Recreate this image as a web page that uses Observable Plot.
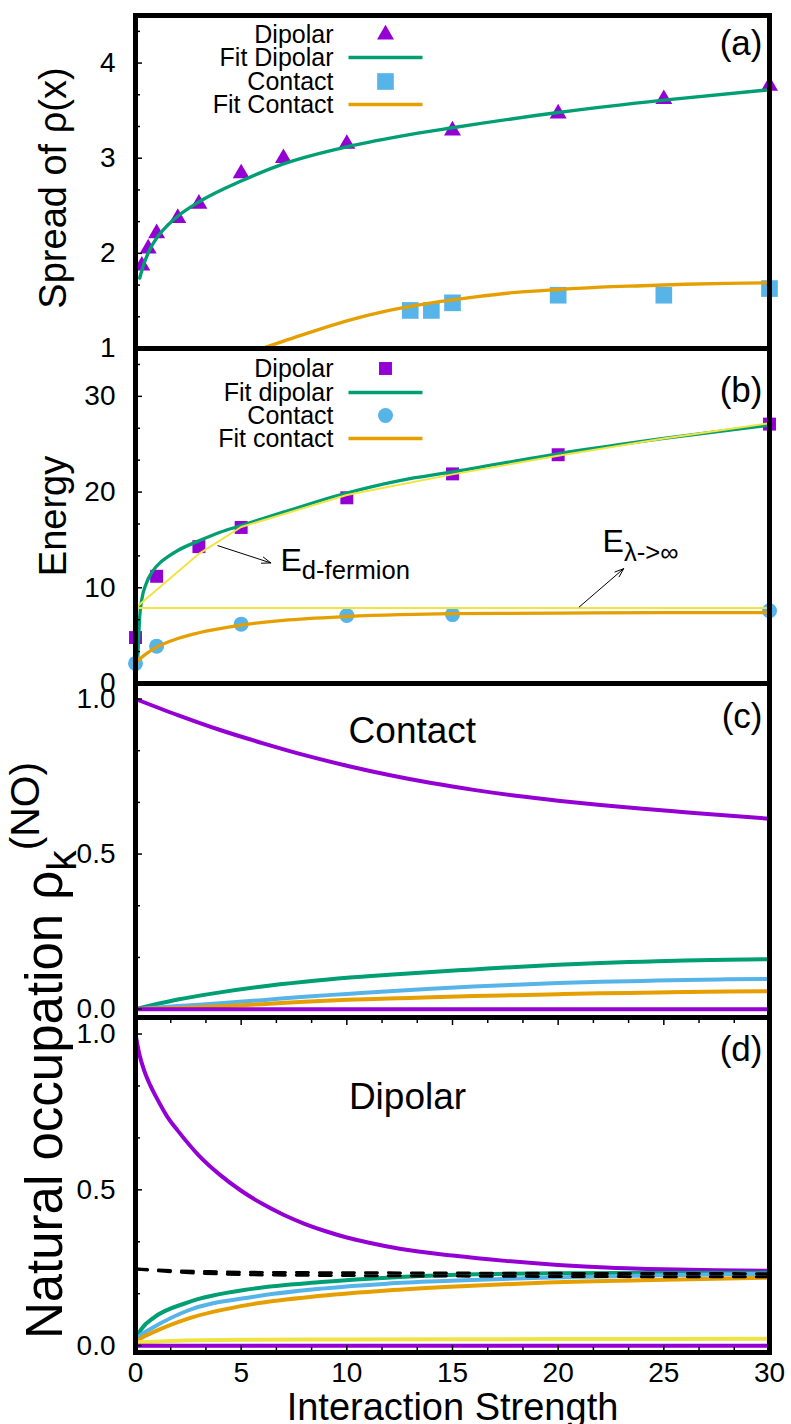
<!DOCTYPE html>
<html><head><meta charset="utf-8">
<script src="https://cdn.jsdelivr.net/npm/d3@7"></script>
<script src="https://cdn.jsdelivr.net/npm/@observablehq/plot@0.6"></script>
<style>
html,body{margin:0;padding:0;background:#fff;}
#fig{position:relative;width:791px;height:1424px;overflow:hidden;background:#fff;}
#fig svg{position:absolute;left:0;overflow:visible;}
</style></head><body><div id="fig"></div>
<script>
// ---------------- data ----------------
const X_DOMAIN = [0, 30];
const X_MAJOR = [0, 5, 10, 15, 20, 25, 30];

// panel (a) Spread of rho(x)
const aDipX = [0.3, 0.6, 1, 2, 3, 5, 7, 10, 15, 20, 25, 30];
const aDipY = [1.87, 2.05, 2.21, 2.37, 2.52, 2.84, 3.00, 3.15, 3.29, 3.47, 3.62, 3.76];
const aFitDipX = [0.2, 0.4, 0.7, 1, 1.5, 2, 3, 5, 7, 10, 12.5, 15, 20, 25, 30];
const aFitDipY = [1.74, 1.89, 2.05, 2.16, 2.29, 2.39, 2.54, 2.76, 2.94, 3.12, 3.23, 3.32, 3.48, 3.61, 3.72];
const aConX = [13, 14, 15, 20, 25, 30];
const aConY = [1.40, 1.40, 1.48, 1.56, 1.56, 1.63];
const aFitConX = [6, 8, 10, 12, 14, 16, 18, 20, 22, 24, 26, 28, 30];
const aFitConY = [1.00, 1.15, 1.29, 1.40, 1.48, 1.54, 1.59, 1.62, 1.645, 1.66, 1.675, 1.685, 1.69];
const aYMajor = [1, 2, 3, 4];
const aLegend = ["Dipolar", "Fit Dipolar", "Contact", "Fit Contact"];

// panel (b) Energy
const bDipX = [0, 1, 3, 5, 10, 15, 20, 30];
const bDipY = [4.8, 11.2, 14.3, 16.3, 19.4, 21.9, 23.9, 27.1];
const bFitDipX = [0.1, 0.15, 0.2, 0.3, 0.5, 0.8, 1.2, 1.5, 2, 3, 4, 5, 7, 10, 12.5, 15, 20, 25, 30];
const bFitDipY = [2.4, 4.8, 7.0, 8.8, 10.4, 11.7, 12.7, 13.2, 13.9, 14.9, 15.8, 16.5, 17.9, 19.9, 21.2, 22.1, 24.0, 25.6, 27.0];
const bConX = [0, 1, 5, 10, 15, 30];
const bConY = [2.1, 3.9, 6.2, 7.1, 7.2, 7.6];
const bFitConX = [0, 0.5, 1, 2, 3, 5, 7, 10, 12.5, 15, 20, 25, 30];
const bFitConY = [2.2, 3.1, 3.8, 4.7, 5.3, 6.1, 6.6, 7.0, 7.2, 7.3, 7.35, 7.4, 7.4];
const bEdfX = [0, 3, 5, 10, 15, 20, 25, 30];
const bEdfY = [7.9, 13.55, 16.35, 19.7, 21.85, 23.8, 25.6, 27.2];
const bElimX = [0, 30];
const bElimY = [7.9, 7.9];
const bYMajor = [0, 10, 20, 30];
const bLegend = ["Dipolar", "Fit dipolar", "Contact", "Fit contact"];
const bNotes = [{x: 6.86, y: 11.8, label: "E_{d-fermion}"}, {x: 22.1, y: 13.7, label: "E_{λ->∞}"}];
const bArrows = [{x1: 3.9, y1: 14.4, x2: 6.4, y2: 12.6}, {x1: 21.0, y1: 8.0, x2: 23.1, y2: 12.0}];

// panel (c) Contact natural occupations
const cX = [0, 2, 4, 6, 8, 10, 12, 14, 16, 18, 20, 22, 24, 26, 28, 30];
const cPurple = [1.0, 0.948, 0.900, 0.858, 0.819, 0.785, 0.755, 0.729, 0.707, 0.688, 0.672, 0.658, 0.646, 0.635, 0.624, 0.614];
const cGreen = [0, 0.031, 0.054, 0.073, 0.088, 0.101, 0.111, 0.120, 0.128, 0.136, 0.143, 0.149, 0.153, 0.157, 0.159, 0.161];
const cBlue = [0, 0.010, 0.019, 0.029, 0.040, 0.049, 0.058, 0.066, 0.073, 0.079, 0.084, 0.088, 0.091, 0.094, 0.096, 0.097];
const cOrange = [0, 0.004, 0.009, 0.016, 0.024, 0.030, 0.034, 0.038, 0.042, 0.045, 0.048, 0.051, 0.053, 0.055, 0.057, 0.058];
const cLowX = [0, 30];
const cLowY = [0, 0];
const cNotes = [{x: 13.1, y: 0.896, label: "Contact"}];

// panel (d) Dipolar natural occupations
const dPurpleX = [0, 0.2, 0.4, 0.7, 1, 1.5, 2, 3, 4, 5, 6, 7, 8, 9, 10, 11, 12.5, 15, 17.5, 20, 22.5, 25, 27.5, 30];
const dPurpleY = [1.0, 0.93, 0.885, 0.835, 0.795, 0.735, 0.69, 0.61, 0.548, 0.497, 0.455, 0.42, 0.391, 0.367, 0.347, 0.331, 0.311, 0.289, 0.272, 0.259, 0.25, 0.245, 0.242, 0.24];
const dGreenX = [0, 0.3, 0.87, 2.45, 5.6, 8.8, 11.9, 14.9, 20, 25, 30];
const dGreenY = [0.02, 0.055, 0.09, 0.138, 0.183, 0.204, 0.218, 0.227, 0.232, 0.233, 0.234];
const dBlueX = [0, 0.3, 0.87, 2.45, 5.6, 8.8, 11.9, 14.9, 19.2, 25, 30];
const dBlueY = [0.02, 0.037, 0.060, 0.112, 0.157, 0.183, 0.199, 0.208, 0.218, 0.226, 0.231];
const dOrangeX = [0, 0.3, 0.87, 2.45, 5.6, 8.8, 11.9, 14.9, 19.2, 23.9, 30];
const dOrangeY = [0.01, 0.025, 0.044, 0.086, 0.134, 0.16, 0.177, 0.189, 0.202, 0.21, 0.218];
const dYellowX = [0, 2, 5, 10, 20, 30];
const dYellowY = [0.01, 0.016, 0.019, 0.020, 0.021, 0.022];
const dLowX = [0, 30];
const dLowY = [0, 0];
const dDashX = [0, 2, 4, 6, 10, 20, 30];
const dDash1Y = [0.246, 0.240, 0.237, 0.235, 0.234, 0.232, 0.231];
const dDash2Y = [0.246, 0.236, 0.230, 0.227, 0.225, 0.222, 0.221];
const dNotes = [{x: 12.87, y: 0.797, label: "Dipolar"}];
const occMajor = [0, 0.5, 1.0];

// ---------------- helpers ----------------
const FONT = '"Liberation Sans", Arial, Helvetica, sans-serif';
const C = {purple: "#9400D3", green: "#009E73", blue: "#56B4E9", orange: "#E69F00", yellow: "#F0E442"};
const pts = (xs, ys) => xs.map((x, i) => ({x, y: ys[i]}));
const thirds = (lo, hi, step) => d3.range(lo, hi + 1e-9, step / 3)
  .filter(v => Math.abs(v / step - Math.round(v / step)) > 1e-6);
const lineSym = {draw(ctx) { ctx.moveTo(-37, 0); ctx.lineTo(37, 0); }};
const fig = document.getElementById("fig");

function yAxis(major, minor, fmt) {
  return [
    Plot.axisY(minor, {tickSize: -5, tickFormat: () => "", strokeWidth: 1.5, label: null}),
    Plot.axisY(major, {tickSize: -7, tickPadding: 27, tickFormat: fmt, strokeWidth: 1.5, label: null, fontSize: 28})
  ];
}
function curve(xs, ys, stroke, w, extra = {}) {
  return Plot.line(pts(xs, ys), {x: "x", y: "y", stroke, strokeWidth: w, curve: "monotone-x", ...extra});
}
function legend(labels, rowsDy, items) {
  const marks = [];
  labels.forEach((lab, i) => {
    marks.push(Plot.text([lab], {frameAnchor: "top-left", dx: 198, dy: rowsDy[i], textAnchor: "end", lineAnchor: "middle", fontSize: 25}));
    marks.push(Plot.dot([0], {frameAnchor: "top-left", dx: 250, dy: rowsDy[i], ...items[i]}));
  });
  return marks;
}
function panelLabel(t, dy) {
  return Plot.text([t], {frameAnchor: "top-right", dx: -7, dy, textAnchor: "end", lineAnchor: "middle", fontSize: 35});
}
function yLabel(t, opts) {
  return Plot.text([t], {rotate: -90, textAnchor: "middle", lineAnchor: "middle", fontSize: 38, ...opts});
}
function richify(svg) {
  d3.select(svg).selectAll("text").each(function () {
    const s = this.textContent;
    if (!/[_^]\{/.test(s)) return;
    const fs = parseFloat(getComputedStyle(this).fontSize);
    const parts = [];
    const re = /([_^])\{([^}]*)\}|([^_^]+)/g;
    let m;
    while ((m = re.exec(s))) parts.push(m[3] !== undefined ? {t: m[3], k: 0} : {t: m[2], k: m[1] === "_" ? -1 : 1});
    const el = d3.select(this);
    el.text(null);
    let cur = 0;
    for (const p of parts) {
      const off = p.k === 0 ? 0 : p.k === -1 ? 0.27 * fs : -0.45 * fs;
      const ts = el.append("tspan").text(p.t).attr("dy", off - cur);
      if (p.k !== 0) ts.attr("font-size", 0.8 * fs);
      cur = off;
    }
  });
}
function panel({top, height, mt, mb, yDomain, marks}) {
  const svg = Plot.plot({
    width: 791, height, marginLeft: 135, marginRight: 22, marginTop: mt, marginBottom: mb,
    x: {domain: X_DOMAIN, axis: null},
    y: {domain: yDomain, axis: null},
    style: {background: "transparent", fontFamily: FONT, fontSize: "28px", overflow: "visible", color: "black"},
    marks
  });
  svg.style.top = top + "px";
  fig.appendChild(svg);
  richify(svg);
}
const frame = Plot.frame({stroke: "black", strokeWidth: 5});

// ---------------- panel (a) ----------------
panel({
  top: 0, height: 353, mt: 15, mb: 5, yDomain: [1, 4.5],
  marks: [
    Plot.dot(pts(aDipX, aDipY), {x: "x", y: "y", symbol: "triangle", r: 6.3, fill: C.purple}),
    curve(aFitDipX, aFitDipY, C.green, 3.4),
    Plot.dot(pts(aConX, aConY), {x: "x", y: "y", symbol: "square", r: 9.4, fill: C.blue}),
    curve(aFitConX, aFitConY, C.orange, 3.4),
    ...legend(aLegend, [19, 42, 66, 89], [
      {symbol: "triangle", r: 6.3, fill: C.purple},
      {symbol: lineSym, r: 4, fill: "none", stroke: C.green, strokeWidth: 3.4},
      {symbol: "square", r: 9.4, fill: C.blue},
      {symbol: lineSym, r: 4, fill: "none", stroke: C.orange, strokeWidth: 3.4}
    ]),
    yLabel("Spread of ρ(x)", {frameAnchor: "left", dx: -82, dy: 6}),
    panelLabel("(a)", 28.5),
    ...yAxis(aYMajor, thirds(1, 4.5, 1), d3.format("d")),
    frame
  ]
});

// ---------------- panel (b) ----------------
panel({
  top: 343, height: 345, mt: 5, mb: 5, yDomain: [0, 35],
  marks: [
    Plot.dot(pts(bDipX, bDipY), {x: "x", y: "y", symbol: "square", r: 7.3, fill: C.purple}),
    curve(bFitDipX, bFitDipY, C.green, 3.3),
    Plot.dot(pts(bConX, bConY), {x: "x", y: "y", r: 7.5, fill: C.blue}),
    curve(bFitConX, bFitConY, C.orange, 3.3),
    Plot.line(pts(bEdfX, bEdfY), {x: "x", y: "y", stroke: C.yellow, strokeWidth: 2}),
    Plot.line(pts(bElimX, bElimY), {x: "x", y: "y", stroke: C.yellow, strokeWidth: 2}),
    Plot.arrow(bArrows, {x1: "x1", y1: "y1", x2: "x2", y2: "y2", stroke: "black", strokeWidth: 1, headLength: 14, headAngle: 40}),
    Plot.text(bNotes, {x: "x", y: "y", text: "label", textAnchor: "start", lineAnchor: "bottom", fontSize: 32}),
    ...legend(bLegend, [20, 44, 67, 90], [
      {symbol: "square", r: 7.3, fill: C.purple},
      {symbol: lineSym, r: 4, fill: "none", stroke: C.green, strokeWidth: 3.3},
      {symbol: "circle", r: 7.5, fill: C.blue},
      {symbol: lineSym, r: 4, fill: "none", stroke: C.orange, strokeWidth: 3.3}
    ]),
    yLabel("Energy", {frameAnchor: "left", dx: -82}),
    panelLabel("(b)", 42.5),
    ...yAxis(bYMajor, thirds(0, 35, 10), d3.format("d")),
    frame
  ]
});

// ---------------- panel (c) ----------------
panel({
  top: 678, height: 344, mt: 5, mb: 5, yDomain: [-0.027, 1.05],
  marks: [
    curve(cX, cPurple, C.purple, 4),
    curve(cX, cGreen, C.green, 4),
    curve(cX, cBlue, C.blue, 4),
    curve(cX, cOrange, C.orange, 4),
    curve(cLowX, cLowY, C.purple, 4),
    Plot.text(cNotes, {x: "x", y: "y", text: "label", fontSize: 37, lineAnchor: "middle"}),
    panelLabel("(c)", 33),
    ...yAxis(occMajor, thirds(0, 1.0, 0.5), d3.format(".1f")),
    frame
  ]
});

// ---------------- panel (d) ----------------
panel({
  top: 1012, height: 412, mt: 5, mb: 72, yDomain: [-0.022, 1.053],
  marks: [
    curve(dPurpleX, dPurpleY, C.purple, 4),
    curve(dGreenX, dGreenY, C.green, 4),
    curve(dBlueX, dBlueY, C.blue, 4),
    curve(dOrangeX, dOrangeY, C.orange, 4),
    curve(dYellowX, dYellowY, C.yellow, 4),
    curve(dLowX, dLowY, C.purple, 4),
    curve(dDashX, dDash1Y, "black", 3, {strokeDasharray: "12,11"}),
    curve(dDashX, dDash2Y, "black", 3, {strokeDasharray: "12,11"}),
    Plot.text(dNotes, {x: "x", y: "y", text: "label", fontSize: 37, lineAnchor: "middle"}),
    panelLabel("(d)", 32.5),
    ...yAxis(occMajor, thirds(0, 1.0, 0.5), d3.format(".1f")),
    Plot.axisX(thirds(0, 30, 5), {anchor: "bottom", tickSize: -5, tickFormat: () => "", strokeWidth: 1.5, label: null}),
    Plot.axisX(X_MAJOR, {anchor: "bottom", tickSize: -7, tickPadding: 17, strokeWidth: 1.5, label: null, fontSize: 28, tickFormat: d3.format("d")}),
    Plot.axisX(thirds(0, 30, 5), {anchor: "top", tickSize: -5, tickFormat: () => "", strokeWidth: 1.5, label: null}),
    Plot.axisX(X_MAJOR, {anchor: "top", tickSize: -7, tickFormat: () => "", strokeWidth: 1.5, label: null}),
    Plot.text(["Interaction Strength"], {frameAnchor: "bottom", dy: 41, lineAnchor: "top", fontSize: 38}),
    yLabel("Natural occupation ρ_{k}^{(NO)}", {frameAnchor: "top-left", dx: -90, dy: 33, fontSize: 51}),
    frame
  ]
});
</script></body></html>
